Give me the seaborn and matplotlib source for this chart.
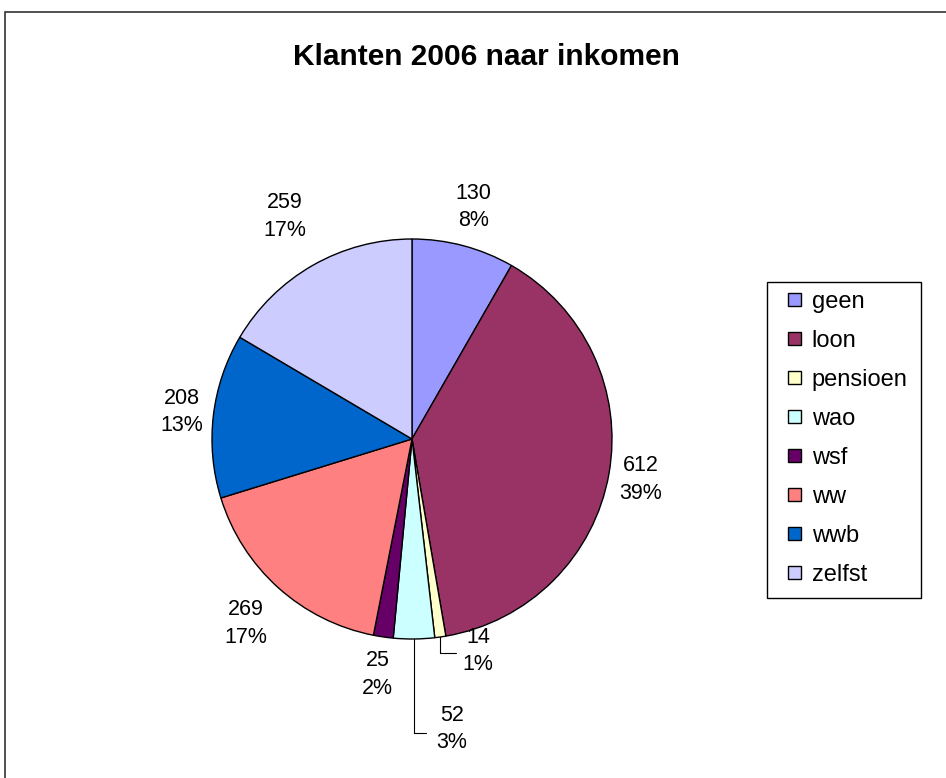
import numpy as np
import matplotlib
matplotlib.use("Agg")
import matplotlib.pyplot as plt
from matplotlib.patches import Patch, Rectangle
import seaborn as sns

# ================= DATA =================
categories = ['geen', 'loon', 'pensioen', 'wao', 'wsf', 'ww', 'wwb', 'zelfst']
counts = [130, 612, 14, 52, 25, 269, 208, 259]
percent_labels = ['8%', '39%', '1%', '3%', '2%', '17%', '13%', '17%']
colors = ['#9999FF', '#993366', '#FFFFCC', '#CCFFFF', '#660066', '#FF8080', '#0066CC', '#CCCCFF']
TITLE = 'Klanten 2006 naar inkomen'

# label distance (in radii) per slice, Excel-ish placement
label_dist = [1.20, 1.16, None, None, 1.19, 1.24, 1.16, 1.28]

# ================= STYLE =================
sns.set_theme(style="white")
plt.rcParams['font.family'] = ['Liberation Sans', 'DejaVu Sans']
plt.rcParams['text.color'] = 'black'

W, H = 946, 778
fig = plt.figure(figsize=(W / 100, H / 100), dpi=100)
fig.patch.set_facecolor('white')

# outer chart frame
fig.patches.append(Rectangle((5 / W, -0.01), 1.0, 1 - 12 / H + 0.01, transform=fig.transFigure,
                             fill=False, edgecolor='#333333', linewidth=1.2))

# pie axes: centre (412, 439) px, radius 198 px
cx, cy, R = 412, 439, 198
half = 250
ax = fig.add_axes([(cx - half) / W, (H - cy - half) / H, 2 * half / W, 2 * half / H])
lim = half / R
ax.set_xlim(-lim, lim)
ax.set_ylim(-lim, lim)
ax.set_aspect('equal')
ax.axis('off')

wedges, _ = ax.pie(counts, colors=colors, startangle=90, counterclock=False,
                   wedgeprops=dict(edgecolor='black', linewidth=1.0))

# ================= LABELS =================
fs = 15.5
for i, w in enumerate(wedges):
    txt = f"{counts[i]}\n{percent_labels[i]}"
    mid = np.deg2rad((w.theta1 + w.theta2) / 2)
    if label_dist[i] is not None:
        r = label_dist[i]
        ax.text(r * np.cos(mid), r * np.sin(mid), txt, ha='center', va='center',
                fontsize=fs, linespacing=1.4, color='black')
    else:
        ex, ey = np.cos(mid), np.sin(mid)
        if categories[i] == 'pensioen':
            ly, lx, tx, ty = -1.07, 0.22, 0.33, -1.06
        else:
            ly, lx, tx, ty = -1.47, 0.07, 0.20, -1.45
        ax.plot([ex, ex, lx], [ey, ly, ly], color='black', linewidth=0.8, clip_on=False)
        ax.text(tx, ty, txt, ha='center', va='center', fontsize=fs, linespacing=1.4,
                color='black')

fig.text(486 / W, 1 - 57 / H, TITLE, ha='center', va='center', fontsize=21.5,
         fontweight='bold', color='black')

# ================= LEGEND =================
# frame drawn separately (Excel pads more left/right than top/bottom)
fig.patches.append(Rectangle((767 / W, 1 - 598 / H), (921 - 767) / W, (598 - 282) / H,
                             transform=fig.transFigure, fill=False, edgecolor='black',
                             linewidth=1.0))
handles = [Patch(facecolor=c, edgecolor='black', linewidth=1.0) for c in colors]
leg = fig.legend(handles, categories, loc='upper left', bbox_to_anchor=(788 / W, 1 - 291 / H),
                 fontsize=17, frameon=False, handlelength=0.55, handleheight=0.5,
                 handletextpad=0.45, labelspacing=0.72, borderpad=0, borderaxespad=0)
for t in leg.get_texts():
    t.set_color('black')

fig.savefig('out.png', dpi=100)
